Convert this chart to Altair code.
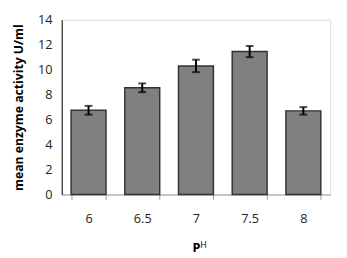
import altair as alt
import pandas as pd

ph = ["6", "6.5", "7", "7.5", "8"]
activity = [6.75, 8.55, 10.3, 11.45, 6.7]
err = [0.35, 0.35, 0.5, 0.45, 0.3]

df = pd.DataFrame({"ph": ph, "v": activity, "e": err})
df["lo"] = df["v"] - df["e"]
df["hi"] = df["v"] + df["e"]

FONT = "Open Sans"
xaxis = alt.Axis(title="P", titleFont=FONT, titleFontSize=13, titleFontWeight="bold",
                 titleColor="black", titlePadding=16,
                 labelAngle=0, labelFont=FONT, labelFontSize=13, labelColor="#222",
                 labelPadding=14, tickBand="extent", tickSize=5, tickColor="#999",
                 domainColor="#999", domainWidth=1)
xscale = alt.Scale(paddingInner=0.35, paddingOuter=0.175)
yaxis = alt.Axis(values=[0, 2, 4, 6, 8, 10, 12, 14], title="mean enzyme activity U/ml",
                 titleFont=FONT, titleFontSize=12.5, titleFontWeight="bold", titleColor="black",
                 titlePadding=12, labelFont=FONT, labelFontSize=13, labelColor="#222",
                 labelOverlap=False, ticks=False, labelPadding=10, grid=False,
                 domainColor="black", domainWidth=1)
yscale = alt.Scale(domain=[0, 14], nice=False)

def X():
    return alt.X("ph:N", sort=ph, scale=xscale, axis=xaxis)

def Y(f):
    return alt.Y(f + ":Q", scale=yscale, axis=yaxis)

base = alt.Chart(df)
bars = base.mark_bar(color="#808080", stroke="#333", strokeWidth=1.5).encode(x=X(), y=Y("v"))
rule = base.mark_rule(color="black", strokeWidth=2).encode(x=X(), y=Y("lo"), y2="hi:Q")
caps_hi = base.mark_tick(color="black", thickness=2, size=8, orient="horizontal").encode(x=X(), y=Y("hi"))
caps_lo = base.mark_tick(color="black", thickness=2, size=8, orient="horizontal").encode(x=X(), y=Y("lo"))
sup = alt.Chart(pd.DataFrame({"t": ["H"]})).mark_text(font=FONT, fontSize=9, fill="black", align="left").encode(
    text="t:N", x=alt.value(142), y=alt.value(231))

chart = alt.layer(bars, rule, caps_hi, caps_lo, sup).properties(
    width=275, height=179, autosize="none",
    padding={"left": 55, "top": 9, "right": 9, "bottom": 62},
).configure_view(stroke=None).configure(background="white")

chart.save("out.html", embed_options={"renderer": "svg", "actions": False})
